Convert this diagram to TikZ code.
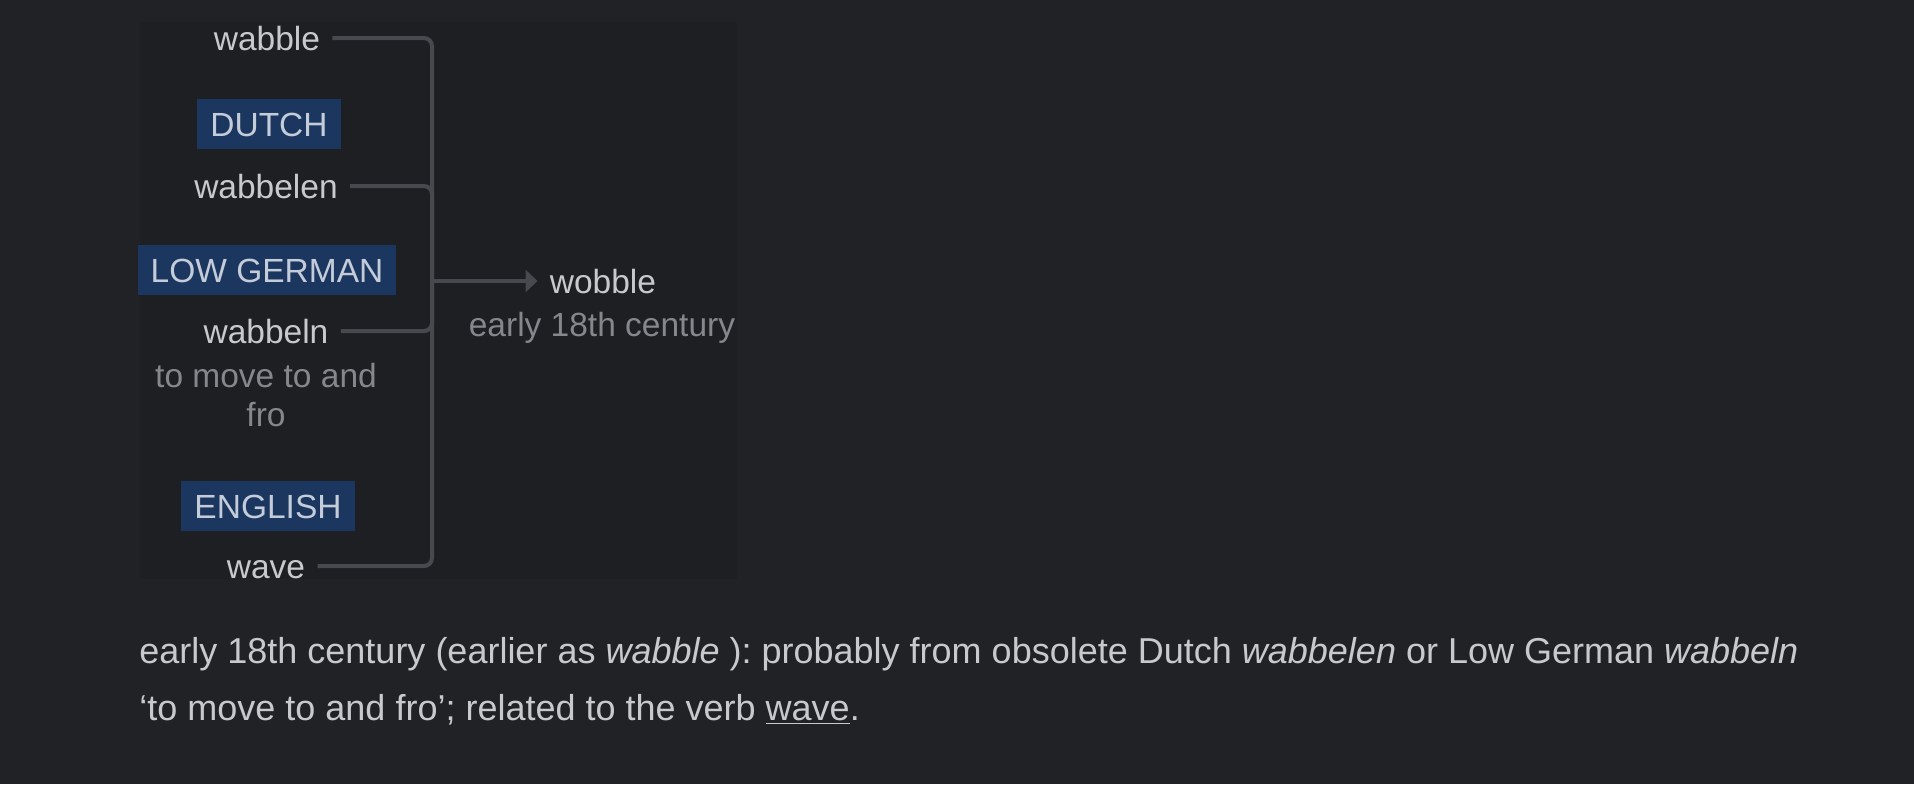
\documentclass[tikz,border=0pt]{standalone}
\usepackage{fontspec}
\setmainfont{Liberation Sans}
\usetikzlibrary{
  arrows.meta,
  positioning
}
\definecolor{pagebg}{RGB}{33,34,38}
\definecolor{panelbg}{RGB}{30,31,34}
\definecolor{langbg}{RGB}{27,54,95}
\definecolor{langtxt}{RGB}{196,204,218}
\definecolor{wordc}{RGB}{200,201,205}
\definecolor{glossc}{RGB}{134,135,140}
\definecolor{linkc}{RGB}{72,73,78}

\begin{document}
\frenchspacing
\begin{tikzpicture}[
  x=0.5pt, y=-0.5pt,
  every node/.style = {inner sep=0pt, text=wordc,
    font=\fontsize{16.75}{20}\selectfont,
    text height=12pt, text depth=0pt},
  word/.style = {inner xsep=6pt},
  lang/.style = {fill=langbg, text=langtxt,
    inner xsep=6.5pt, inner ysep=6.5pt},
  gloss/.style = {text=glossc},
  link/.style = {draw=linkc, line width=2pt, rounded corners=4pt},
  note/.style = {anchor=base west, text height=, text depth=,
    font=\fontsize{18}{22}\selectfont}]
  \fill[pagebg] (0,0) rectangle (1914,784);
  \fill[panelbg] (140,22) rectangle (737,579);
  % sources
  \node[word] (wabble) at (267,38) {wabble};
  \node[lang] (dutch) at (269,124) {DUTCH};
  \node[word] (wabbelen) at (266,186) {wabbelen};
  \node[lang] (lowgerman) at (267,270) {LOW GERMAN};
  \node[word] (wabbeln) at (266,331) {wabbeln};
  \node[gloss, align=center, anchor=north, text height=, text depth=,
    font=\fontsize{16.75}{19.5}\selectfont] (wabbelngloss) at (266,363)
    {to move to and\\fro};
  \node[lang] (english) at (268,506) {ENGLISH};
  \node[word] (wave) at (266,566) {wave};
  % target
  \coordinate (hub) at (432,281);
  \node[word] (wobble) at (603,281) {wobble};
  \node[gloss] (wobbledate) at (602,324) {early 18th century};
  \foreach \src in {wabble, wabbelen, wabbeln, wave}
    \draw[link] (\src.east) -| (hub);
  \draw[link, -{Triangle[length=6pt, width=11pt]}] (hub) -- (wobble.west);
  % text below
  \node[note] (noteone) at (139,663) {early 18th century (earlier as
    \textit{wabble} ): probably from obsolete Dutch \textit{wabbelen} or
    Low German \textit{wabbeln}};
  \node[note] (notetwo) at (139,720) {‘to move to and fro’; related to
    the verb \underline{wave}.};
\end{tikzpicture}
\end{document}
